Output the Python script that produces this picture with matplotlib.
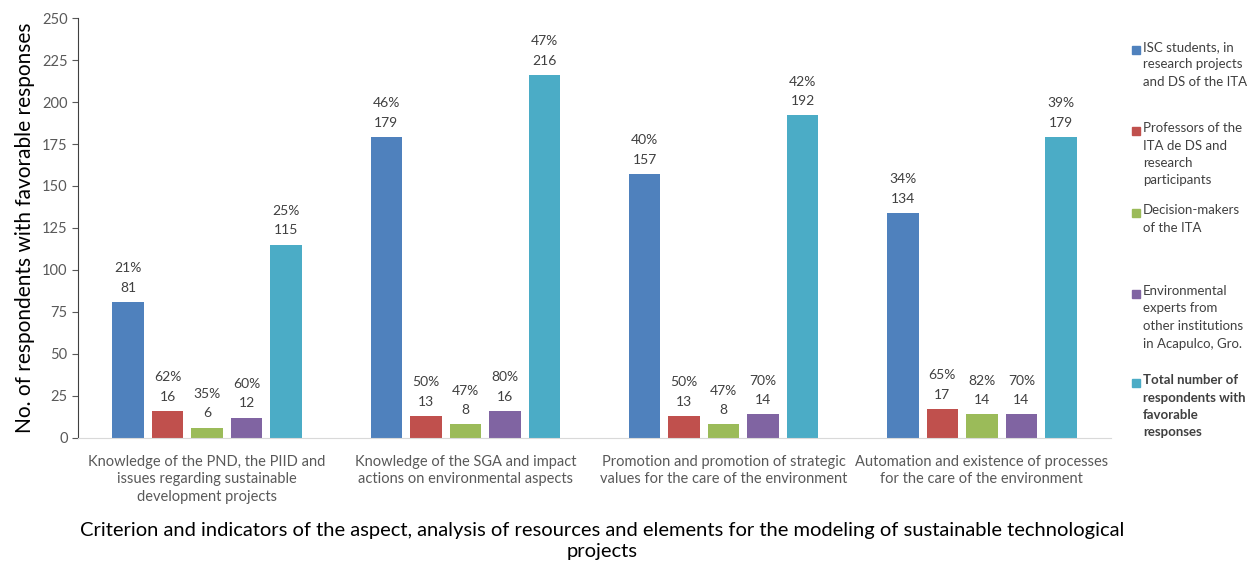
import matplotlib
matplotlib.use("Agg")
import matplotlib.pyplot as plt
import numpy as np
from matplotlib.patches import Rectangle

plt.rcParams['font.family'] = ['Lato', 'DejaVu Sans']

categories = [
    "Knowledge of the PND, the PIID and\nissues regarding sustainable\ndevelopment projects",
    "Knowledge of the SGA and impact\nactions on environmental aspects",
    "Promotion and promotion of strategic\nvalues for the care of the environment",
    "Automation and existence of processes\nfor the care of the environment",
]
series_names = [
    "ISC students, in\nresearch projects\nand DS of the ITA",
    "Professors of the\nITA de DS and\nresearch\nparticipants",
    "Decision-makers\nof the ITA",
    "Environmental\nexperts from\nother institutions\nin Acapulco, Gro.",
    "Total number of\nrespondents with\nfavorable\nresponses",
]
values = [
    [81, 179, 157, 134],
    [16, 13, 13, 17],
    [6, 8, 8, 14],
    [12, 16, 14, 14],
    [115, 216, 192, 179],
]
percents = [
    [21, 46, 40, 34],
    [62, 50, 50, 65],
    [35, 47, 47, 82],
    [60, 80, 70, 70],
    [25, 47, 42, 39],
]
colors = ["#4F81BD", "#C0504D", "#9BBB59", "#8064A2", "#4BACC6"]
yticks = [0, 25, 50, 75, 100, 125, 150, 175, 200, 225, 250]

fig = plt.figure(figsize=(12.49, 5.65), dpi=100)
ax = fig.add_axes([0.0625, 0.225, 0.827, 0.743])

x = np.arange(len(categories))
step = 0.153
width = 0.122
for i, (vals, pcts, c) in enumerate(zip(values, percents, colors)):
    pos = x + (i - 2) * step
    ax.bar(pos, vals, width=width, color=c)
    for p, v, pc in zip(pos, vals, pcts):
        ax.annotate(f"{pc}%\n{v}", (p, v), xytext=(0, 6), textcoords="offset points",
                    ha="center", va="bottom", fontsize=10, color="#404040",
                    linespacing=1.75)

ax.set_xlim(-0.5, 3.5)
ax.set_ylim(0, 250)
ax.set_yticks(yticks)
ax.set_xticks(x)
ax.set_xticklabels(categories, fontsize=10.5, color="#595959", linespacing=1.35)
ax.tick_params(axis='x', length=0, pad=12)
ax.tick_params(axis='y', labelsize=10.5, labelcolor="#595959", length=4, color="#595959", direction='out')
for s in ['top', 'right']:
    ax.spines[s].set_visible(False)
ax.spines['left'].set_color("#404040")
ax.spines['bottom'].set_color("#D9D9D9")
ax.set_ylabel("No. of respondents with favorable responses", fontsize=15, color="#000000", labelpad=5)

fig.text(0.482, 0.043, "Criterion and indicators of the aspect, analysis of resources and elements for the modeling of sustainable technological\nprojects",
         ha="center", va="center", fontsize=14.5, color="#000000", linespacing=1.3)

# legend, manual placement
leg_y = [50, 131, 213, 294, 383]
for i, (name, c) in enumerate(zip(series_names, colors)):
    ypx = leg_y[i]
    yf = 1 - ypx / 565
    fig.patches.append(Rectangle((1132 / 1249, yf - 4 / 565), 8 / 1249, 8 / 565,
                                 transform=fig.transFigure, color=c))
    fig.text(1143 / 1249, yf + 9 / 565, name, ha="left", va="top", fontsize=9.5,
             color="#404040", linespacing=1.55,
             fontweight="bold" if i == 4 else "normal")

fig.savefig("out.png", dpi=100)
